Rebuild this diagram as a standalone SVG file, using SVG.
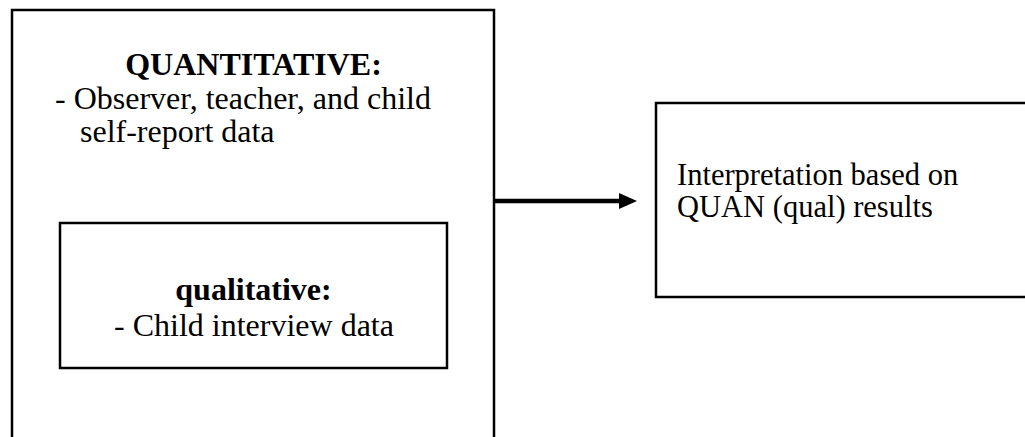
<svg xmlns="http://www.w3.org/2000/svg" width="1025" height="437" viewBox="0 0 1025 437">
<style>
.box{fill:none;stroke:#000;stroke-width:2.5}
.t{font-family:"Liberation Serif","Times New Roman",serif;font-size:32px;fill:#000}
.r{font-size:30.5px}
.b{font-weight:bold}
</style>
<defs>
<marker id="ah" markerWidth="18" markerHeight="16" refX="0" refY="8" orient="auto" markerUnits="userSpaceOnUse">
<path d="M0,0 L18,8 L0,16 Z" fill="#000"/>
</marker>
</defs>
<rect width="1025" height="437" fill="#fff"/>
<g id="quantitative">
<rect class="box" x="12" y="10" width="482" height="445"/>
<text class="t b" x="253.5" y="75" text-anchor="middle">QUANTITATIVE:</text>
<text class="t" x="55" y="109">- Observer, teacher, and child</text>
<text class="t" x="80" y="142">self-report data</text>
</g>
<g id="qualitative">
<rect class="box" x="60" y="223" width="387" height="145"/>
<text class="t b" x="253.5" y="300" text-anchor="middle">qualitative:</text>
<text class="t" x="254" y="336" text-anchor="middle">- Child interview data</text>
</g>
<g id="interpretation">
<rect class="box" x="656" y="103" width="380" height="194"/>
<text class="t r" x="677" y="185">Interpretation based on</text>
<text class="t r" x="677" y="217">QUAN (qual) results</text>
</g>
<g id="connectors">
<line x1="494" y1="201" x2="619" y2="201" stroke="#000" stroke-width="4.5" marker-end="url(#ah)"/>
</g>
</svg>
